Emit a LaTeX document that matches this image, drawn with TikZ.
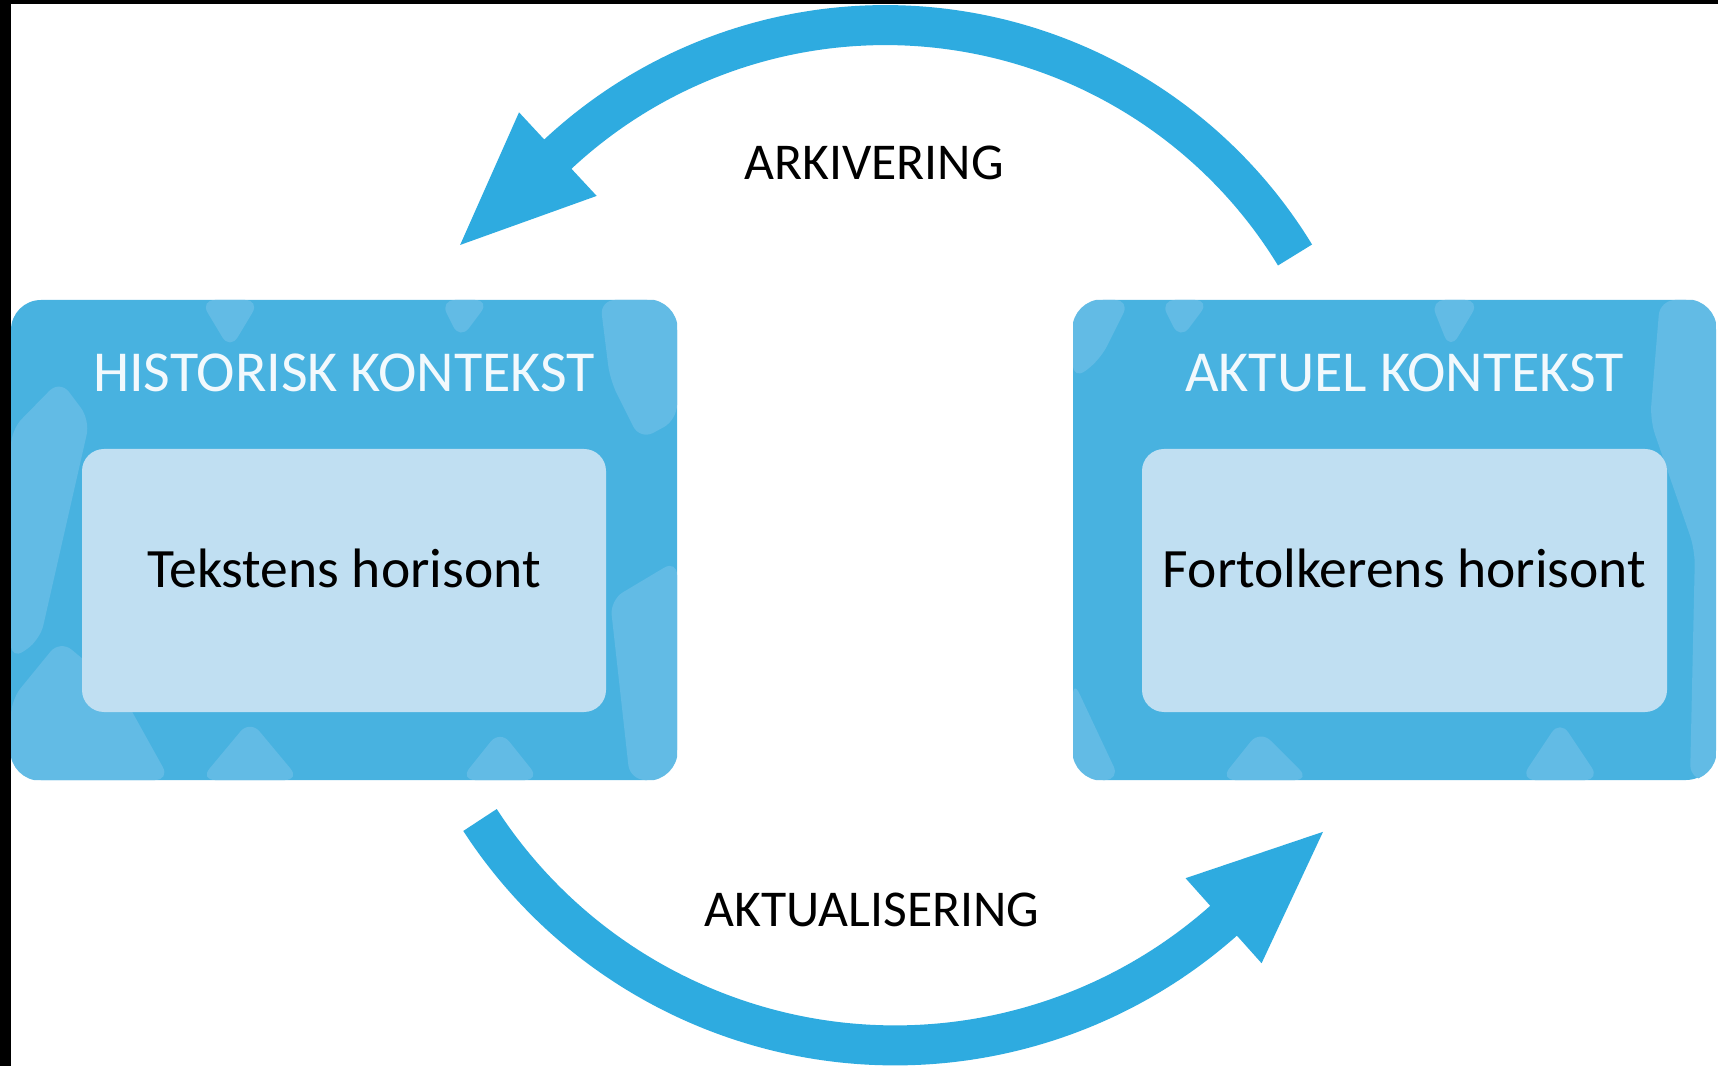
\documentclass[tikz,border=0pt]{standalone}
\usepackage{fontspec}
\setmainfont{Carlito}
\usepackage{xcolor}
\usepackage{tikz}
\usetikzlibrary{arrows.meta,positioning}

\definecolor{boxblaa}{RGB}{72,178,224}
\definecolor{lysblaa}{RGB}{98,187,229}
\definecolor{inderblaa}{RGB}{192,223,242}
\definecolor{pilblaa}{RGB}{46,171,224}
\definecolor{titelhvid}{RGB}{242,249,253}

\tikzset{
  kontekst/.style={fill=boxblaa, rounded corners=3mm, minimum width=#1,
    minimum height=4.8cm, inner sep=0pt},
  horisont/.style={fill=inderblaa, rounded corners=2.2mm, minimum width=5.24cm,
    minimum height=2.63cm, text depth=2.4mm, font=\fontsize{15.8}{19}\selectfont},
  titel/.style={text=titelhvid, inner sep=0pt, font=\fontsize{16.5}{20}\selectfont},
  etiket/.style={inner sep=0pt, font=\fontsize{14.7}{18}\selectfont},
  pil/.style={->, pilblaa, line width=4mm},
  moenster/.style={fill=lysblaa, rounded corners=1.5mm}
}

\begin{document}
\begin{tikzpicture}[>={Triangle[length=14mm,width=10.2mm]}, scale=1]
  \useasboundingbox (0,0) rectangle (17.18,-10.66);
  \fill[white] (0,0) rectangle (17.18,-10.66);

  % Sort kant
  \fill[black] (0,0) rectangle (0.11,-10.66);
  \fill[black] (0,0) rectangle (17.18,-0.04);

  % Kontekster
  \node[kontekst=6.66cm] (hist) at (3.44,-5.40) {};
  \node[kontekst=6.43cm] (aktuel) at (13.945,-5.40) {};

  % Moenster i baggrunden
  \begin{scope}
    \clip[rounded corners=3mm] (hist.south west) rectangle (hist.north east);
    \fill[moenster] (0.11,-7.0) -- (0.6,-6.4) -- (1.2,-6.9) -- (1.7,-7.8) -- (0.11,-7.8) -- cycle;
    \fill[moenster] (0.11,-4.3) -- (0.6,-3.8) -- (0.9,-4.2) -- (0.4,-6.4) -- (0.11,-6.6) -- cycle;
    \fill[moenster] (6.0,-3.0) -- (6.77,-3.0) -- (6.77,-4.2) -- (6.4,-4.4) -- (6.1,-3.8) -- cycle;
    \fill[moenster] (6.1,-6.0) -- (6.77,-5.6) -- (6.77,-7.8) -- (6.3,-7.8) -- cycle;
    \fill[moenster] (2.0,-3.0) -- (2.6,-3.0) -- (2.3,-3.5) -- cycle;
    \fill[moenster] (4.4,-3.0) -- (4.9,-3.0) -- (4.6,-3.4) -- cycle;
    \fill[moenster] (2.0,-7.8) -- (2.5,-7.2) -- (3.0,-7.8) -- cycle;
    \fill[moenster] (4.6,-7.8) -- (5.0,-7.3) -- (5.4,-7.8) -- cycle;
  \end{scope}
  \begin{scope}
    \clip[rounded corners=3mm] (aktuel.south west) rectangle (aktuel.north east);
    \fill[moenster] (10.73,-3.0) -- (11.3,-3.0) -- (11.0,-3.6) -- (10.73,-3.8) -- cycle;
    \fill[moenster] (16.6,-3.0) -- (17.16,-3.0) -- (17.16,-7.8) -- (16.9,-7.8) -- (16.95,-5.5) -- (16.5,-4.2) -- cycle;
    \fill[moenster] (10.73,-6.8) -- (11.2,-7.8) -- (10.73,-7.8) -- cycle;
    \fill[moenster] (11.6,-3.0) -- (12.1,-3.0) -- (11.8,-3.4) -- cycle;
    \fill[moenster] (14.3,-3.0) -- (14.8,-3.0) -- (14.5,-3.5) -- cycle;
    \fill[moenster] (12.2,-7.8) -- (12.6,-7.3) -- (13.1,-7.8) -- cycle;
    \fill[moenster] (15.2,-7.8) -- (15.6,-7.2) -- (16.0,-7.8) -- cycle;
  \end{scope}

  % Horisonter
  \node[horisont] (tekst) at (3.44,-5.805) {Tekstens horisont};
  \node[horisont, minimum width=5.25cm] (fortolk) at (14.045,-5.805) {Fortolkerens horisont};

  % Titler
  \node[titel, above=5.6mm of tekst] (histTitel) {HISTORISK KONTEKST};
  \node[titel, above=5.6mm of fortolk] (aktuelTitel) {AKTUEL KONTEKST};

  % Pile
  \coordinate (arkStart) at (12.95,-2.55);
  \coordinate (aktStart) at (4.80,-8.20);
  \draw[pil] (arkStart) arc[start angle=31.4, end angle=132.9, radius=4.8] -- ++(222.9:1.41);
  \draw[pil] (aktStart) arc[start angle=213, end angle=311.8, radius=4.95] -- ++(41.8:1.38);

  % Etiketter
  \node[etiket] (arkivering) at (8.74,-1.63) {ARKIVERING};
  \node[etiket] (aktualisering) at (8.72,-9.10) {AKTUALISERING};
\end{tikzpicture}
\end{document}
